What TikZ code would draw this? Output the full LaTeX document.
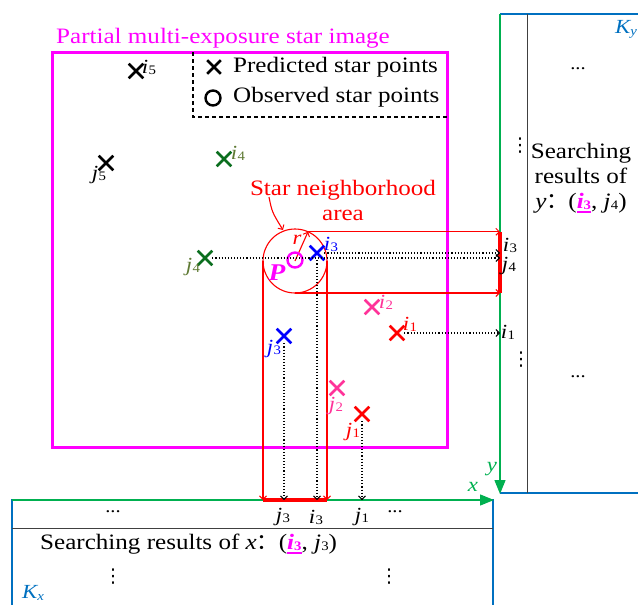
\documentclass[tikz,border=0pt]{standalone}
\usepackage{fontspec}
\setmainfont[FakeStretch=1.14]{Liberation Serif}
\newfontfamily\cjk{Noto Sans CJK SC}
\newfontfamily\dejavu{DejaVu Sans}
\usetikzlibrary{arrows.meta,shapes.misc}
\definecolor{magC}{HTML}{FF00FF}
\definecolor{redC}{HTML}{FF0000}
\definecolor{blueC}{HTML}{0000FF}
\definecolor{dgreen}{HTML}{0A6E1E}
\definecolor{oliveC}{HTML}{5F7A34}
\definecolor{pinkC}{HTML}{FF3399}
\definecolor{axgreen}{HTML}{00B050}
\definecolor{boxblue}{HTML}{0070C0}
\definecolor{grayline}{HTML}{404040}
\newcommand\ijlab[2]{\textit{#1}\kern0.3pt\raisebox{-1pt}{\fontsize{13}{13}\selectfont #2}}
\newcommand\uln[1]{\setbox0\hbox{#1}\rlap{\raisebox{-4.5pt}{\rule{\wd0}{2.2pt}}}\box0}
\begin{document}
\begin{tikzpicture}[x=1pt,y=-1pt,
  font=\fontsize{22}{25}\selectfont,
  xm/.style={cross out, draw=#1, line width=2.6pt, minimum size=12pt, inner sep=0pt},
  lab/.style={inner sep=0pt, text=#1, font=\fontsize{20}{22}\selectfont},
  dotarr/.style={dotted, line width=1.1pt, -{Straight Barb[length=3.5pt,width=7pt,line width=0.9pt]}},
  redarr/.style={redC, line width=1.1pt, -{Straight Barb[length=3.5pt,width=7pt,line width=1pt]}},
  axisarr/.style={axgreen, line width=1.4pt, -{Triangle[length=14pt,width=11pt]}},
  txt/.style={inner sep=0pt},
  vdt/.style={inner sep=0pt, font=\dejavu\fontsize{19}{20}\selectfont},
]
\useasboundingbox (0,0) rectangle (638,605);

% boxes Kx, Ky
\draw[boxblue, line width=1.6pt] (12,605) -- (12,500) -- (493,500) -- (493,605);
\draw[grayline, line width=1pt] (12,528) -- (493,528);
\draw[boxblue, line width=1.6pt] (500,14) -- (638,14);
\draw[boxblue, line width=1.6pt] (500,493) -- (638,493);
\draw[grayline, line width=1pt] (527,14) -- (527,493);

% magenta image frame
\draw[magC, line width=3pt] (52,52) rectangle (447,447);
\node[txt, text=magC] (title) at (223,38) {Partial multi-exposure star image};

% legend
\draw[black, line width=1.8pt, dash pattern=on 4pt off 3pt] (193,52) -- (193,117) -- (447,117);
\node[xm=black, minimum size=11pt] (legx) at (214,67) {};
\node[draw=black, circle, line width=2.4pt, minimum size=15pt, inner sep=0pt] (lego) at (213,98) {};
\node[txt, anchor=west] (legxt) at (233,67) {Predicted star points};
\node[txt, anchor=west] (legot) at (233,97) {Observed star points};

% axes
\coordinate (xs) at (12,500);
\coordinate (xe) at (494,500);
\coordinate (ys) at (500,14);
\coordinate (ye) at (500,494);
\draw[axisarr] (xs) -- (xe);
\draw[axisarr] (ys) -- (ye);
\node[lab=axgreen] (xlab) at (473,487) {\textit{x}};
\node[lab=axgreen] (ylab) at (492,469) {\textit{y}};

% neighborhood
\coordinate (C) at (295,261);
\draw[redC, line width=1.1pt] (C) circle (32pt);
\path (C) ++(66:32pt) coordinate (rtip);
\path (C) ++(0,32) coordinate (cbot);
\path (C) ++(-32,0) coordinate (cleft);
\path (C) ++(32,0) coordinate (cright);
\draw[redarr] (C) -- (rtip);
\node[lab=redC] (rlab) at (297,240) {\textit{r}};
\draw[redarr] (rtip) -- (rtip -| ye);
\draw[redarr] (cbot) -- (cbot -| ye);
\draw[redarr] (cleft) -- (cleft |- xe);
\draw[redarr] (cright) -- (cright |- xe);
\draw[redC, line width=4pt] (rtip -| ye) -- (cbot -| ye);
\draw[redC, line width=4pt] (cleft |- xe) -- (cright |- xe);
\node[txt, text=redC, align=center, font=\fontsize{22}{25}\selectfont] (snl) at (343,200) {Star neighborhood\\area};
\coordinate (sa) at (269,197);
\draw[redarr] (sa) .. controls (272,212) .. (283,230);

% observed point P
\node[draw=magC, circle, line width=2.4pt, minimum size=15pt, inner sep=0pt] (P) at (295,260) {};
\node[txt, text=magC, font=\fontsize{24}{26}\selectfont\bfseries\itshape] (Plab) at (277,273) {P};

% predicted points
\node[xm=black] (i5) at (136,71) {};
\node[xm=black] (j5) at (106,163) {};
\node[xm=dgreen] (i4) at (224,159) {};
\node[xm=dgreen] (j4) at (205,258) {};
\node[xm=blueC] (i3) at (317,253) {};
\node[xm=blueC] (j3) at (284,336) {};
\node[xm=pinkC] (i2) at (372,307) {};
\node[xm=pinkC] (j2) at (337,388) {};
\node[xm=redC] (i1) at (397,333) {};
\node[xm=redC] (j1) at (362,414) {};

\node[lab=black] (i5l) at (149,67) {\ijlab{i}{5}};
\node[lab=black] (j5l) at (99,175) {\ijlab{j}{5}};
\node[lab=oliveC] (i4l) at (238,153) {\ijlab{i}{4}};
\node[lab=oliveC] (j4l) at (193,267) {\ijlab{j}{4}};
\node[lab=blueC] (i3l) at (331,244) {\ijlab{i}{3}};
\node[lab=blueC] (j3l) at (274,349) {\ijlab{j}{3}};
\node[lab=pinkC] (i2l) at (386,302) {\ijlab{i}{2}};
\node[lab=pinkC] (j2l) at (336,406) {\ijlab{j}{2}};
\node[lab=redC] (i1l) at (410,324) {\ijlab{i}{1}};
\node[lab=redC] (j1l) at (353,432) {\ijlab{j}{1}};

% projections
\draw[dotarr] (j4.east) -- (j4 -| ye);
\draw[dotarr] (i3.east) -- (i3 -| ye);
\draw[dotarr] (i1.east) -- (i1 -| ye);
\draw[dotarr] (i3.south) -- (i3 |- xe);
\draw[dotarr] (j3.south) -- (j3 |- xe);
\draw[dotarr] (j1.south) -- (j1 |- xe);

% axis labels
\node[lab=black] (yi3) at (510,245) {\ijlab{i}{3}};
\node[lab=black] (yj4) at (509,266) {\ijlab{j}{4}};
\node[lab=black] (yi1) at (508,332) {\ijlab{i}{1}};
\node[lab=black] (xj3) at (283,517) {\ijlab{j}{3}};
\node[lab=black] (xi3) at (316,517) {\ijlab{i}{3}};
\node[lab=black] (xj1) at (362,517) {\ijlab{j}{1}};
\node[txt, font=\fontsize{18}{20}\selectfont] (xd1) at (113,512) {...};
\node[txt, font=\fontsize{18}{20}\selectfont] (xd2) at (395,512) {...};

% Kx contents
\node[txt, anchor=west] (kxt) at (40,544) {Searching results of \textit{x}{\cjk ：}(\textcolor{magC}{\uln{\textbf{\textit{i}}\raisebox{-1pt}{\fontsize{13}{13}\selectfont\bfseries 3}}}, \ijlab{j}{3})};
\node[vdt] (kxv1) at (113,577) {⋮};
\node[vdt] (kxv2) at (389,577) {⋮};
\node[txt, text=boxblue, font=\fontsize{20}{22}\selectfont\itshape] (kxl) at (33,593) {K\raisebox{-2pt}{\fontsize{13}{13}\selectfont x}};

% Ky contents
\node[txt, font=\fontsize{18}{20}\selectfont] (yd1) at (578,69) {...};
\node[txt, font=\fontsize{18}{20}\selectfont] (yd2) at (578,377) {...};
\node[vdt] (kyv1) at (520,146) {⋮};
\node[vdt] (kyv2) at (521,360) {⋮};
\node[txt, align=center] (kyt) at (581,178) {Searching\\results of\\\textit{y}{\cjk ：}(\textcolor{magC}{\uln{\textbf{\textit{i}}\raisebox{-1pt}{\fontsize{13}{13}\selectfont\bfseries 3}}}, \ijlab{j}{4})};
\node[txt, text=boxblue, font=\fontsize{20}{22}\selectfont\itshape] (kyl) at (626,29) {K\raisebox{-2pt}{\fontsize{13}{13}\selectfont y}};
\end{tikzpicture}
\end{document}
